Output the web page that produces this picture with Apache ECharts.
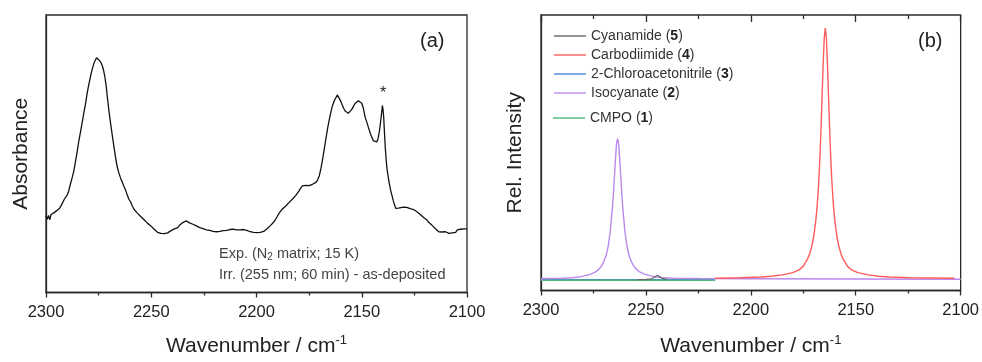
<!DOCTYPE html>
<html>
<head>
<meta charset="utf-8">
<script src="https://cdn.jsdelivr.net/npm/echarts@6/dist/echarts.min.js"></script>
<style>html,body{margin:0;padding:0;background:#fff}#c{width:982px;height:362px}</style>
</head>
<body>
<div id="c"></div>
<script>
// ---------- Data ----------
const xMin = 2100, xMax = 2300, xInterval = 50, xMinorInterval = 25;

// Panel (a): experimental spectrum (wavenumber, absorbance in arbitrary units)
const expWavenumber = [2300.0,2299.4,2298.8,2298.2,2297.6,2297.0,2296.3,2295.6,2294.9,2294.2,2293.5,2292.8,2292.0,2291.3,2290.6,2289.9,2289.2,2288.4,2287.6,2286.8,2286.0,2285.2,2284.4,2283.6,2282.8,2282.0,2281.2,2280.4,2279.6,2278.8,2278.0,2277.2,2276.5,2276.0,2275.5,2275.0,2274.5,2274.0,2273.3,2272.6,2272.0,2271.4,2270.8,2270.1,2269.4,2268.6,2267.8,2267.0,2266.2,2265.4,2264.6,2263.8,2263.0,2262.2,2261.4,2260.6,2259.8,2259.0,2258.2,2257.4,2256.6,2255.8,2255.0,2254.2,2253.4,2252.6,2251.8,2251.0,2250.2,2249.4,2248.6,2247.8,2247.0,2246.2,2245.4,2244.6,2243.8,2243.0,2242.2,2241.4,2240.6,2239.8,2239.0,2238.2,2237.4,2236.6,2235.8,2235.0,2234.2,2233.4,2232.6,2231.8,2231.0,2230.2,2229.4,2228.6,2227.8,2227.0,2226.2,2225.4,2224.6,2223.8,2223.0,2222.2,2221.4,2220.6,2219.8,2219.0,2218.2,2217.4,2216.6,2215.8,2215.0,2214.2,2213.4,2212.6,2211.8,2211.0,2210.2,2209.4,2208.6,2207.8,2207.0,2206.2,2205.4,2204.6,2203.8,2203.0,2202.2,2201.4,2200.6,2199.8,2199.0,2198.2,2197.4,2196.6,2195.8,2195.0,2194.2,2193.4,2192.6,2191.8,2191.0,2190.2,2189.4,2188.6,2187.8,2187.0,2186.2,2185.4,2184.6,2183.8,2183.0,2182.2,2181.4,2180.6,2179.8,2179.0,2178.2,2177.4,2176.6,2175.8,2175.0,2174.2,2173.4,2172.6,2171.8,2171.0,2170.2,2169.4,2168.6,2167.8,2167.0,2166.2,2165.4,2164.6,2163.8,2163.0,2162.2,2161.6,2161.0,2160.4,2159.8,2159.2,2158.6,2158.0,2157.2,2156.4,2155.6,2154.8,2154.0,2153.2,2152.4,2151.6,2150.8,2150.0,2149.2,2148.4,2147.6,2146.8,2146.0,2145.2,2144.4,2143.6,2142.8,2142.2,2141.6,2141.0,2140.6,2140.2,2139.9,2139.6,2139.2,2138.8,2138.4,2138.0,2137.4,2136.8,2136.2,2135.6,2135.0,2134.4,2133.8,2133.2,2132.6,2132.0,2131.4,2130.8,2130.2,2129.4,2128.6,2127.8,2127.0,2126.2,2125.4,2124.6,2123.8,2123.0,2122.2,2121.4,2120.6,2119.8,2119.0,2118.2,2117.4,2116.6,2115.8,2115.0,2114.2,2113.4,2112.6,2111.8,2111.0,2110.2,2109.4,2108.6,2107.8,2107.0,2106.2,2105.4,2104.6,2103.8,2103.0,2102.2,2101.4,2100.6,2100.0];
const expAbsorbance = [27.5,26.4,27.8,26.2,28.1,27.6,28.7,28.3,29.5,29.2,30.4,31.3,32.0,33.6,33.9,35.2,36.6,39.1,41.3,43.7,47.2,50.7,54.6,57.9,61.3,64.8,68.1,72.0,75.2,78.1,80.6,82.7,83.4,84.6,84.2,83.9,83.3,83.0,81.8,79.9,77.6,74.3,70.1,65.4,61.4,57.1,52.9,48.9,45.4,43.1,41.3,39.8,38.3,36.9,35.1,33.6,32.6,31.2,30.0,29.3,28.6,28.1,27.4,26.9,26.2,25.7,25.0,24.6,24.0,23.3,22.8,22.3,21.7,21.8,21.3,21.6,21.2,21.7,21.5,22.0,22.3,22.2,22.9,23.1,23.4,24.2,24.6,25.2,25.0,25.8,25.5,25.1,24.8,24.6,24.5,24.0,23.9,23.4,23.5,23.0,23.1,22.6,22.8,22.4,22.3,22.0,21.7,21.9,21.6,22.0,21.9,22.3,22.5,22.4,22.9,22.7,23.1,22.8,23.0,22.6,22.9,22.6,22.5,22.7,22.3,22.4,22.1,21.9,22.2,21.7,21.9,21.6,21.9,21.7,22.1,22.0,22.6,23.0,23.5,24.1,24.6,25.4,26.3,27.3,28.4,29.2,30.0,30.6,31.1,31.8,32.4,32.9,33.6,34.0,34.9,35.6,36.6,37.6,38.4,38.1,38.6,38.2,38.5,38.7,39.0,39.2,39.7,40.5,42.0,44.6,48.0,51.8,55.5,59.2,62.4,65.3,67.6,69.2,70.3,71.2,70.6,69.6,68.6,67.5,66.4,65.5,64.9,64.6,64.9,65.9,67.0,68.1,68.8,69.1,68.9,68.2,66.3,63.2,61.4,59.4,57.5,55.9,54.6,54.0,54.3,55.6,58.2,61.7,64.5,67.4,66.0,63.5,57.5,52.0,47.8,44.6,41.5,38.8,36.6,34.8,33.0,31.5,30.3,30.0,30.4,30.2,30.6,30.3,30.8,30.9,30.7,30.5,30.2,30.0,29.9,29.4,29.1,28.6,28.1,27.7,27.0,26.6,26.1,25.3,24.8,24.2,23.7,23.0,22.5,21.9,21.5,21.8,21.4,21.9,21.7,21.3,21.8,21.5,22.1,21.7,22.6,23.0,22.8,23.1,22.9,23.0,22.9];

// Panel (b): calculated spectra (relative intensity)
const cyanamideX = [2254,2250,2248,2247,2246,2245.2,2244.5,2243.8,2243,2242,2241,2240];
const cyanamideY = [-0.002,-0.001,0.0,0.003,0.008,0.014,0.016,0.014,0.008,0.003,0.001,0.0];

const carbodiimideX = [2217,2205,2195,2190,2185,2180,2177,2175,2173,2172,2171,2170,2169,2168.5,2168,2167.5,2167,2166.5,2166,2165.5,2165,2164.5,2164,2163.5,2163,2162.5,2162,2161.5,2161,2160.5,2160,2159,2158,2157,2156,2154,2152,2149,2144,2139,2134,2124,2103];
const carbodiimideY = [0.004,0.006,0.009,0.012,0.017,0.026,0.037,0.052,0.08,0.1,0.129,0.171,0.236,0.28,0.338,0.41,0.5,0.61,0.735,0.862,0.962,1.0,0.962,0.862,0.735,0.61,0.5,0.41,0.338,0.28,0.236,0.171,0.129,0.1,0.08,0.052,0.037,0.026,0.017,0.012,0.009,0.006,0.004];

const chloroacetonitrileX = [2300,2260,2217];
const chloroacetonitrileY = [-0.002,-0.002,-0.002];

const isocyanateX = [2300,2290,2285,2282,2280,2278,2276,2274,2272,2271,2270,2269,2268,2267.5,2267,2266.5,2266,2265.5,2265,2264.5,2264,2263.5,2263,2262.5,2262,2261.5,2261,2260.5,2260,2259.5,2259,2258,2257,2256,2255,2253,2251,2249,2247,2245,2242,2237,2225,2200,2150,2100];
const isocyanateY = [0.003,0.004,0.006,0.009,0.012,0.016,0.021,0.029,0.043,0.055,0.071,0.093,0.131,0.16,0.19,0.235,0.28,0.34,0.41,0.48,0.54,0.56,0.54,0.48,0.41,0.34,0.28,0.235,0.19,0.16,0.131,0.093,0.071,0.055,0.043,0.029,0.021,0.016,0.012,0.009,0.006,0.004,0.003,0.002,0.001,0.0];

const cmpoX = [2300,2260,2217];
const cmpoY = [-0.004,-0.004,-0.004];

const legendMain = [['Cyanamide','5'],['Carbodiimide','4'],['2-Chloroacetonitrile','3'],['Isocyanate','2']];
const legendExtra = [['CMPO','1']];

// ---------- Chart ----------
const FONT = '"Liberation Sans", Arial, sans-serif';
const AX = '#2a2a2a';
const pairs = (xs, ys) => xs.map((x, i) => [x, ys[i]]);
const fullName = p => p[0] + ' (' + p[1] + ')';
const allLegend = legendMain.concat(legendExtra);
const legendFormatter = name => {
  const p = allLegend.find(q => fullName(q) === name);
  return '{n|' + p[0] + ' (}{b|' + p[1] + '}{n|)}';
};
const legendRich = {
  n: {fontSize: 14, fontFamily: FONT, color: '#333'},
  b: {fontSize: 14, fontFamily: FONT, color: '#222', fontWeight: 'bold'}
};

const nameRich = {
  a: {fontSize: 21, fontFamily: FONT, color: '#222', lineHeight: 26},
  s: {fontSize: 13, fontFamily: FONT, color: '#222', verticalAlign: 'top', lineHeight: 14}
};

function bottomAxis(grid, gap) {
  return {
    type: 'value', gridIndex: grid, min: xMin, max: xMax, interval: xInterval, inverse: true,
    position: 'bottom',
    name: '{a|Wavenumber / cm}{s|-1}', nameLocation: 'middle', nameGap: gap,
    nameTextStyle: {rich: nameRich},
    axisLine: {show: true, onZero: false, lineStyle: {color: AX, width: 1.3}},
    axisTick: {show: true, inside: false, length: 5, lineStyle: {color: AX, width: 1.3}},
    minorTick: {show: true, splitNumber: 2, length: 3, lineStyle: {color: AX, width: 1.3}},
    axisLabel: {show: true, margin: 11, fontSize: 16.5, fontFamily: FONT, color: '#222', formatter: v => String(v)},
    splitLine: {show: false}
  };
}
// tick-only axis (mirrored top ticks of panel b)
function topTickAxis(grid) {
  return {
    type: 'value', gridIndex: grid, min: xMin, max: xMax, interval: xInterval, inverse: true, position: 'top',
    axisLine: {show: false, onZero: false},
    axisTick: {show: true, inside: true, length: 7, lineStyle: {color: AX, width: 1.3}},
    minorTick: {show: true, splitNumber: 2, length: 4, lineStyle: {color: AX, width: 1.3}},
    axisLabel: {show: false}, splitLine: {show: false}
  };
}

function legendBlock(items, left, top) {
  return {
    data: items.map(fullName), orient: 'vertical', left: left, top: top,
    icon: 'rect', itemWidth: 32, itemHeight: 1.4, itemGap: 5, padding: 0,
    formatter: legendFormatter, textStyle: {rich: legendRich}, selectedMode: false
  };
}

const option = {
  animation: false,
  backgroundColor: '#fff',
  grid: [
    {left: 46, right: 515, top: 15, bottom: 64, show: true, borderColor: AX, borderWidth: 1.3, backgroundColor: 'transparent'},
    {left: 541, right: 20, top: 15, bottom: 64, show: true, borderColor: AX, borderWidth: 1.3, backgroundColor: 'transparent'}
  ],
  xAxis: [
    bottomAxis(0, 41),
    bottomAxis(1, 43),
    topTickAxis(1)
  ],
  yAxis: [
    {
      type: 'value', gridIndex: 0, min: 0, max: 100,
      name: 'Absorbance', nameLocation: 'middle', nameGap: 14,
      nameTextStyle: {fontSize: 21, fontFamily: FONT, color: '#222'},
      axisLine: {show: true, onZero: false, lineStyle: {color: AX, width: 1.3}},
      axisTick: {show: false}, axisLabel: {show: false}, splitLine: {show: false}
    },
    {
      type: 'value', gridIndex: 1, min: -0.045, max: 1.052,
      name: 'Rel. Intensity', nameLocation: 'middle', nameGap: 15,
      nameTextStyle: {fontSize: 21, fontFamily: FONT, color: '#222'},
      axisLine: {show: true, onZero: false, lineStyle: {color: AX, width: 1.3}},
      axisTick: {show: false}, axisLabel: {show: false}, splitLine: {show: false}
    }
  ],
  legend: [
    legendBlock(legendMain, 554, 29),
    legendBlock(legendExtra, 553, 111)
  ],
  series: [
    {name: 'Exp', type: 'line', xAxisIndex: 0, yAxisIndex: 0, data: pairs(expWavenumber, expAbsorbance),
     symbol: 'none', lineStyle: {color: '#111', width: 1.3}, itemStyle: {color: '#111'}},
    {name: fullName(legendMain[2]), type: 'line', xAxisIndex: 1, yAxisIndex: 1, data: pairs(chloroacetonitrileX, chloroacetonitrileY),
     symbol: 'none', lineStyle: {color: '#4a86e0', width: 1.4}, itemStyle: {color: '#4a86e0'}},
    {name: fullName(legendExtra[0]), type: 'line', xAxisIndex: 1, yAxisIndex: 1, data: pairs(cmpoX, cmpoY),
     symbol: 'none', lineStyle: {color: '#4cb872', width: 1.4}, itemStyle: {color: '#4cb872'}},
    {name: fullName(legendMain[3]), type: 'line', xAxisIndex: 1, yAxisIndex: 1, data: pairs(isocyanateX, isocyanateY),
     symbol: 'none', lineStyle: {color: '#bb88ee', width: 1.4}, itemStyle: {color: '#bb88ee'}},
    {name: fullName(legendMain[1]), type: 'line', xAxisIndex: 1, yAxisIndex: 1, data: pairs(carbodiimideX, carbodiimideY),
     symbol: 'none', lineStyle: {color: '#ff5c5c', width: 1.4}, itemStyle: {color: '#ff5c5c'}},
    {name: fullName(legendMain[0]), type: 'line', xAxisIndex: 1, yAxisIndex: 1, data: pairs(cyanamideX, cyanamideY),
     symbol: 'none', lineStyle: {color: '#666', width: 1.2}, itemStyle: {color: '#666'}}
  ],
  graphic: [
    {type: 'text', left: 420, top: 31, style: {text: '(a)', font: '20px ' + FONT, fill: '#222'}},
    {type: 'text', left: 918, top: 31, style: {text: '(b)', font: '20px ' + FONT, fill: '#222'}},
    {type: 'text', left: 380, top: 86, style: {text: '*', font: '16px ' + FONT, fill: '#222'}},
    {type: 'text', left: 219, top: 246, style: {
      text: '{t|Exp. (N}{sub|2}{t| matrix; 15 K)}',
      rich: {t: {fontSize: 14.5, fontFamily: FONT, fill: '#444', lineHeight: 18},
             sub: {fontSize: 10, fontFamily: FONT, fill: '#444', lineHeight: 12, verticalAlign: 'bottom'}}
    }},
    {type: 'text', left: 219, top: 267, style: {text: 'Irr. (255 nm; 60 min) - as-deposited', font: '14.5px ' + FONT, fill: '#444'}}
  ]
};

const chart = echarts.init(document.getElementById('c'), null, {renderer: 'canvas'});
chart.setOption(option);
</script>
</body>
</html>
